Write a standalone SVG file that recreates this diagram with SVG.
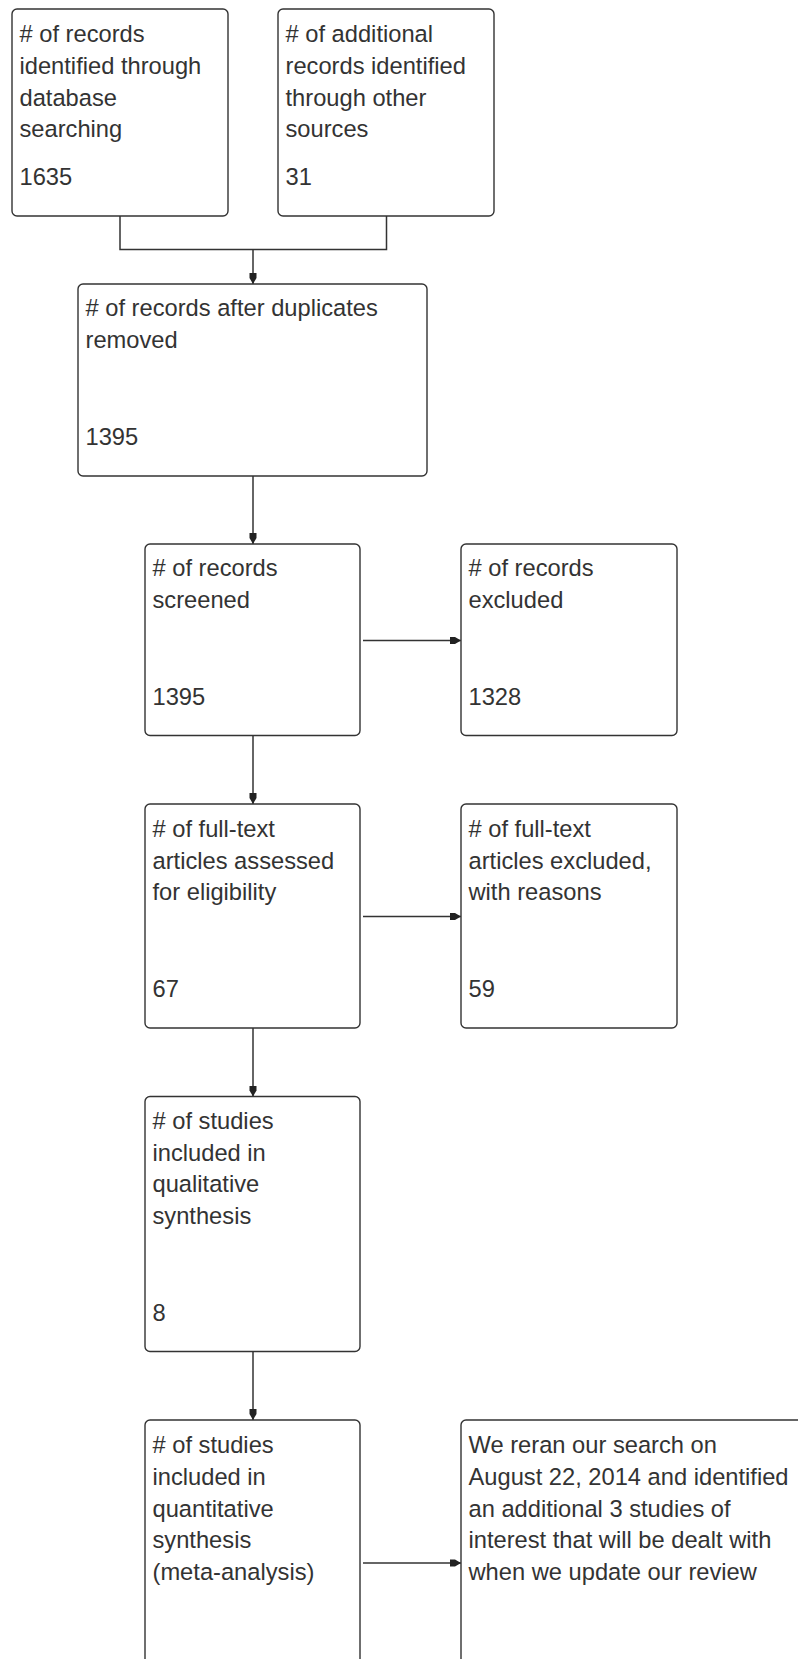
<svg xmlns="http://www.w3.org/2000/svg" width="798" height="1659" viewBox="0 0 798 1659">
<style>
.box{fill:#fff;stroke:#333;stroke-width:1.4}
.t{font-family:"Liberation Sans",Arial,sans-serif;font-size:23.7px;fill:#333}
.c{fill:none;stroke:#333;stroke-width:1.5}
</style>
<defs>
<marker id="ah" viewBox="0 0 11 8" refX="11" refY="4" markerWidth="11" markerHeight="8" markerUnits="userSpaceOnUse" orient="auto">
<path d="M0,0.5 L5,0.5 L11,4 L5,7.5 L0,7.5 z" fill="#222"/>
</marker>
</defs>
<rect width="798" height="1659" fill="#fff"/>
<g id="connectors">
<path class="c" d="M120,216 V249.5 H386.5 V216"/>
<path class="c" d="M253,249.5 V284" marker-end="url(#ah)"/>
<path class="c" d="M253,476 V544" marker-end="url(#ah)"/>
<path class="c" d="M253,735.5 V804" marker-end="url(#ah)"/>
<path class="c" d="M253,1028 V1096.5" marker-end="url(#ah)"/>
<path class="c" d="M253,1351.5 V1420" marker-end="url(#ah)"/>
<path class="c" d="M363,640.5 H461" marker-end="url(#ah)"/>
<path class="c" d="M363,916.5 H461" marker-end="url(#ah)"/>
<path class="c" d="M363,1563 H461" marker-end="url(#ah)"/>
</g>
<g id="n1">
<rect class="box" x="12" y="9" width="216" height="207" rx="5"/>
<text class="t" x="19.5" y="41.5"># of records</text>
<text class="t" x="19.5" y="73.5">identified through</text>
<text class="t" x="19.5" y="105.5">database</text>
<text class="t" x="19.5" y="137">searching</text>
<text class="t" x="19.5" y="185">1635</text>
</g>
<g id="n2">
<rect class="box" x="278" y="9" width="216" height="207" rx="5"/>
<text class="t" x="285.5" y="41.5"># of additional</text>
<text class="t" x="285.5" y="73.5">records identified</text>
<text class="t" x="285.5" y="105.5">through other</text>
<text class="t" x="285.5" y="137">sources</text>
<text class="t" x="285.5" y="185">31</text>
</g>
<g id="n3">
<rect class="box" x="78" y="284" width="349" height="192" rx="5"/>
<text class="t" x="85.5" y="315.5"># of records after duplicates</text>
<text class="t" x="85.5" y="347.5">removed</text>
<text class="t" x="85.5" y="445">1395</text>
</g>
<g id="n4">
<rect class="box" x="145" y="544" width="215" height="191.5" rx="5"/>
<text class="t" x="152.5" y="576"># of records</text>
<text class="t" x="152.5" y="608">screened</text>
<text class="t" x="152.5" y="705">1395</text>
</g>
<g id="n5">
<rect class="box" x="461" y="544" width="216" height="191.5" rx="5"/>
<text class="t" x="468.5" y="576"># of records</text>
<text class="t" x="468.5" y="608">excluded</text>
<text class="t" x="468.5" y="705">1328</text>
</g>
<g id="n6">
<rect class="box" x="145" y="804" width="215" height="224" rx="5"/>
<text class="t" x="152.5" y="836.5"># of full-text</text>
<text class="t" x="152.5" y="868.5">articles assessed</text>
<text class="t" x="152.5" y="900">for eligibility</text>
<text class="t" x="152.5" y="996.5">67</text>
</g>
<g id="n7">
<rect class="box" x="461" y="804" width="216" height="224" rx="5"/>
<text class="t" x="468.5" y="836.5"># of full-text</text>
<text class="t" x="468.5" y="868.5">articles excluded,</text>
<text class="t" x="468.5" y="900">with reasons</text>
<text class="t" x="468.5" y="996.5">59</text>
</g>
<g id="n8">
<rect class="box" x="145" y="1096.5" width="215" height="255" rx="5"/>
<text class="t" x="152.5" y="1129"># of studies</text>
<text class="t" x="152.5" y="1160.5">included in</text>
<text class="t" x="152.5" y="1192">qualitative</text>
<text class="t" x="152.5" y="1223.5">synthesis</text>
<text class="t" x="152.5" y="1320.5">8</text>
</g>
<g id="n9">
<rect class="box" x="145" y="1420" width="215" height="300" rx="5"/>
<text class="t" x="152.5" y="1453"># of studies</text>
<text class="t" x="152.5" y="1485">included in</text>
<text class="t" x="152.5" y="1516.5">quantitative</text>
<text class="t" x="152.5" y="1548">synthesis</text>
<text class="t" x="152.5" y="1580">(meta-analysis)</text>
</g>
<g id="n10">
<rect class="box" x="461" y="1420" width="400" height="300" rx="5"/>
<text class="t" x="468.5" y="1453">We reran our search on</text>
<text class="t" x="468.5" y="1485">August 22, 2014 and identified</text>
<text class="t" x="468.5" y="1516.5">an additional 3 studies of</text>
<text class="t" x="468.5" y="1548">interest that will be dealt with</text>
<text class="t" x="468.5" y="1580">when we update our review</text>
</g>
</svg>
